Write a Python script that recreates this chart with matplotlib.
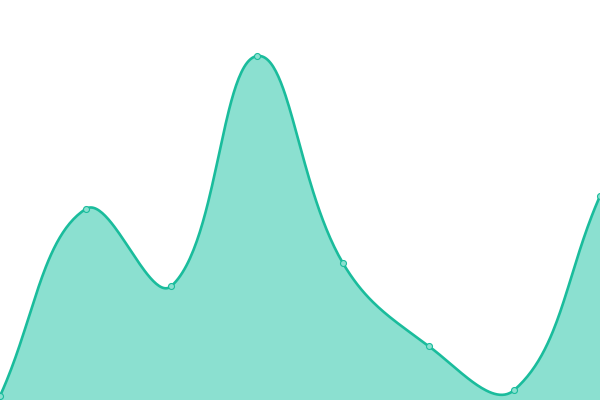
import matplotlib
matplotlib.use("Agg")
import matplotlib.pyplot as plt
import numpy as np

# data (8 evenly spaced points)
labels = ["P1", "P2", "P3", "P4", "P5", "P6", "P7", "P8"]
values = [4, 191, 114, 344, 137, 54, 10, 204]

LINE = "#1abc9c"
FILL = "#8be0d0"

W, H = 600, 400
fig = plt.figure(figsize=(6, 4), dpi=100)
ax = fig.add_axes([0, 0, 1, 1])
ax.set_xlim(0, len(labels) - 1)
ax.set_ylim(0, 400)
ax.axis("off")

# spline with tension 0.4 (control points from neighbours, in pixel space)
xs = np.arange(len(values)) * W / (len(values) - 1)
ys = np.array(values, dtype=float)
pts = np.column_stack([xs, ys])
t = 0.4
n = len(pts)
cp_prev = pts.copy()
cp_next = pts.copy()
for i in range(n):
    prev = pts[max(i - 1, 0)]
    cur = pts[i]
    nxt = pts[min(i + 1, n - 1)]
    d01 = np.hypot(*(cur - prev))
    d12 = np.hypot(*(nxt - cur))
    tot = d01 + d12
    s01 = d01 / tot if tot else 0
    s12 = d12 / tot if tot else 0
    cp_prev[i] = cur - t * s01 * (nxt - prev)
    cp_next[i] = cur + t * s12 * (nxt - prev)

curve = []
u = np.linspace(0, 1, 60)[:, None]
for i in range(n - 1):
    p0, p1, p2, p3 = pts[i], cp_next[i], cp_prev[i + 1], pts[i + 1]
    seg = ((1 - u) ** 3) * p0 + 3 * ((1 - u) ** 2) * u * p1 + 3 * (1 - u) * u ** 2 * p2 + u ** 3 * p3
    curve.append(seg if i == 0 else seg[1:])
curve = np.vstack(curve)
cx = curve[:, 0] * (len(values) - 1) / W
cy = curve[:, 1]

ax.fill_between(cx, 0, cy, color=FILL, linewidth=0, zorder=1)
ax.plot(cx, cy, color=LINE, linewidth=1.9, solid_capstyle="round", zorder=2)
ax.plot(np.arange(len(values)), values, linestyle="none", marker="o",
        markersize=4.3, markerfacecolor=FILL, markeredgecolor=LINE,
        markeredgewidth=0.8, zorder=3)

fig.savefig("out.png", dpi=100)
